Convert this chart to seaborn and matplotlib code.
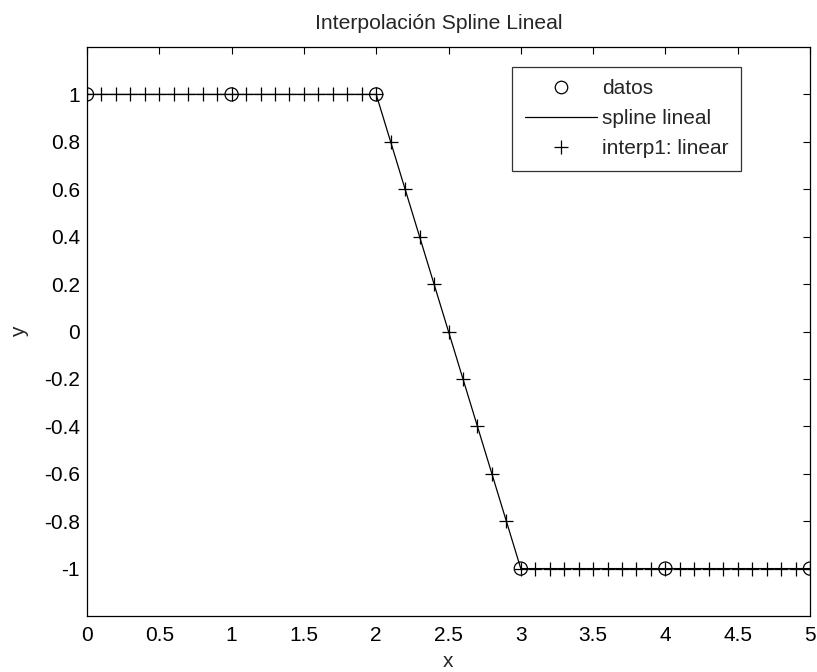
import numpy as np
import pandas as pd
import matplotlib
matplotlib.use("Agg")
import matplotlib.pyplot as plt
import seaborn as sns
from matplotlib.lines import Line2D

# data
x_datos = [0, 1, 2, 3, 4, 5]
y_datos = [1, 1, 1, -1, -1, -1]
x_interp = [round(0.1 * i, 1) for i in range(51)]
y_interp = [1.0] * 21 + [0.8, 0.6, 0.4, 0.2, 0.0, -0.2, -0.4, -0.6, -0.8] + [-1.0] * 21
x_ticks = [0, 0.5, 1, 1.5, 2, 2.5, 3, 3.5, 4, 4.5, 5]
y_ticks = [-1, -0.8, -0.6, -0.4, -0.2, 0, 0.2, 0.4, 0.6, 0.8, 1]
y_tick_labels = ["-1", "-0.8", "-0.6", "-0.4", "-0.2", "0", "0.2", "0.4", "0.6", "0.8", "1"]
x_tick_labels = ["0", "0.5", "1", "1.5", "2", "2.5", "3", "3.5", "4", "4.5", "5"]

sns.set_style("white")
plt.rcParams['font.family'] = ['Liberation Sans', 'DejaVu Sans']

fig = plt.figure(figsize=(8.17, 6.72), dpi=100)
ax = fig.add_axes([87 / 817, 1 - 616 / 672, (810 - 87) / 817, (616 - 47) / 672])

df_d = pd.DataFrame({"x": x_datos, "y": y_datos})
df_i = pd.DataFrame({"x": x_interp, "y": y_interp})

sns.lineplot(data=df_d, x="x", y="y", ax=ax, color="black", linewidth=0.9,
             estimator=None, sort=False, zorder=2)
sns.scatterplot(data=df_d, x="x", y="y", ax=ax, marker="o", s=90,
                facecolor="none", edgecolor="black", linewidth=0.9, zorder=3)
sns.scatterplot(data=df_i, x="x", y="y", ax=ax, marker="+", s=90,
                color="black", linewidth=0.9, zorder=3)

ax.set_xlim(0, 5)
ax.set_ylim(-1.2, 1.2)
ax.set_xticks(x_ticks)
ax.set_xticklabels(x_tick_labels)
ax.set_yticks(y_ticks)
ax.set_yticklabels(y_tick_labels)
ax.tick_params(direction="in", length=5, width=0.8, top=True, right=True,
               labelsize=15, colors="black")
ax.tick_params(axis="x", pad=7)
ax.tick_params(axis="y", pad=5)
for sp in ax.spines.values():
    sp.set_visible(True)
    sp.set_color("black")
    sp.set_linewidth(0.9)

ax.set_xlabel("x", fontsize=15, labelpad=5)
ax.set_ylabel("y", fontsize=15, labelpad=11)
ax.set_title("Interpolación Spline Lineal", fontsize=15.2, pad=13, x=0.487)

handles = [
    Line2D([], [], marker="o", linestyle="none", markerfacecolor="none",
           markeredgecolor="black", markersize=9, markeredgewidth=0.9),
    Line2D([], [], color="black", linewidth=0.9),
    Line2D([], [], marker="+", linestyle="none", color="black",
           markersize=9.5, markeredgewidth=0.9),
]
leg = ax.legend(handles, ["datos", "spline lineal", "interp1: linear"],
                loc="upper right", bbox_to_anchor=(0.9046, 0.965), fontsize=15,
                frameon=True, fancybox=False, edgecolor="black",
                borderpad=0.6, labelspacing=0.52, handlelength=3.45,
                handletextpad=0.25, borderaxespad=0)
leg.get_frame().set_linewidth(0.9)

fig.savefig("out.png", dpi=100, facecolor="white")
